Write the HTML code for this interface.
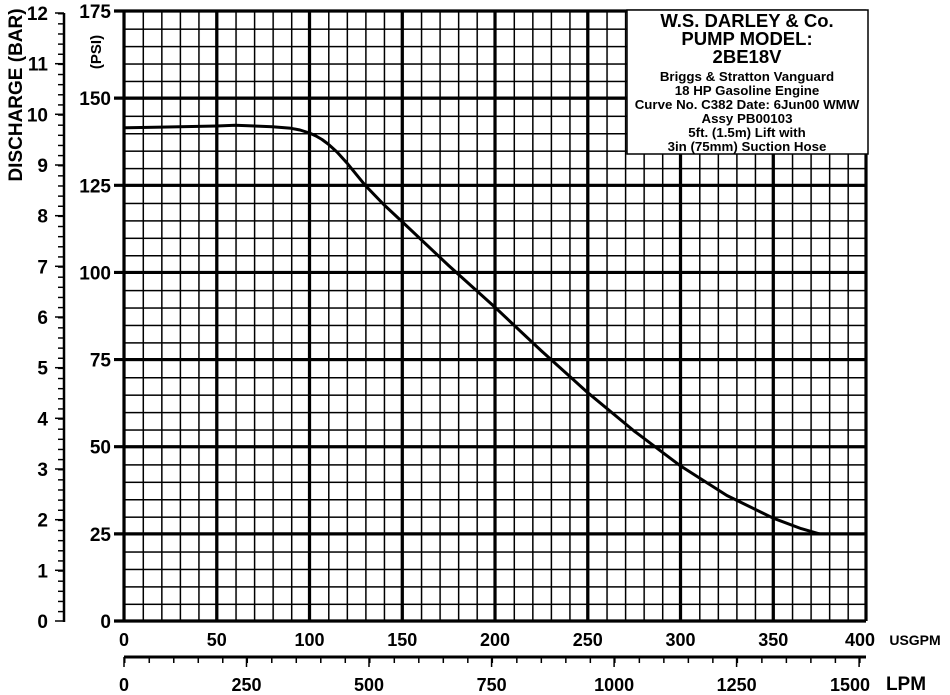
<!DOCTYPE html>
<html><head><style>body{margin:0;background:#fff}svg{display:block}text{font-family:"Liberation Sans",Arial,sans-serif;font-weight:bold;fill:#000}</style></head><body>
<svg width="950" height="695" viewBox="0 0 950 695" xmlns="http://www.w3.org/2000/svg">
<defs>
<pattern id="mg" patternUnits="userSpaceOnUse" x="124" y="11" width="18.55" height="17.4286">
<path d="M0,0V17.4286M0,0H18.55" stroke="#000" stroke-width="3" fill="none"/>
</pattern>
<pattern id="bt" patternUnits="userSpaceOnUse" x="0" y="13" width="20" height="10.1333">
<path d="M0,0H20" stroke="#000" stroke-width="3"/>
</pattern>
<pattern id="lt" patternUnits="userSpaceOnUse" x="124" y="0" width="24.505" height="700">
<path d="M0,0V700" stroke="#000" stroke-width="3"/>
</pattern>
</defs>
<rect x="124" y="11" width="742" height="610" fill="url(#mg)"/>
<g stroke="#000" stroke-width="3.2">
<line x1="124" y1="11" x2="124" y2="621"/><line x1="216.75" y1="11" x2="216.75" y2="621"/><line x1="309.5" y1="11" x2="309.5" y2="621"/><line x1="402.25" y1="11" x2="402.25" y2="621"/><line x1="495" y1="11" x2="495" y2="621"/><line x1="587.75" y1="11" x2="587.75" y2="621"/><line x1="680.5" y1="11" x2="680.5" y2="621"/><line x1="773.25" y1="11" x2="773.25" y2="621"/><line x1="866" y1="11" x2="866" y2="621"/>
<line x1="114" y1="621" x2="866" y2="621"/><line x1="114" y1="533.86" x2="866" y2="533.86"/><line x1="114" y1="446.71" x2="866" y2="446.71"/><line x1="114" y1="359.57" x2="866" y2="359.57"/><line x1="114" y1="272.43" x2="866" y2="272.43"/><line x1="114" y1="185.29" x2="866" y2="185.29"/><line x1="114" y1="98.14" x2="866" y2="98.14"/><line x1="114" y1="11" x2="866" y2="11"/>
</g>
<g font-size="19" text-anchor="end">
<text x="111" y="628">0</text><text x="111" y="540.9">25</text><text x="111" y="453.7">50</text><text x="111" y="366.6">75</text><text x="111" y="279.4">100</text><text x="111" y="192.3">125</text><text x="111" y="105.1">150</text><text x="111" y="18">175</text>
</g>
<g font-size="18" text-anchor="middle">
<text x="124" y="646">0</text><text x="216.75" y="646">50</text><text x="309.5" y="646">100</text><text x="402.25" y="646">150</text><text x="495" y="646">200</text><text x="587.75" y="646">250</text><text x="680.5" y="646">300</text><text x="773.25" y="646">350</text><text x="860" y="646">400</text>
</g>
<rect x="58" y="13" width="6" height="608" fill="url(#bt)"/>
<g stroke="#000" stroke-width="1.5">
<line x1="55" y1="621" x2="64" y2="621"/><line x1="55" y1="570.3" x2="64" y2="570.3"/><line x1="55" y1="519.7" x2="64" y2="519.7"/><line x1="55" y1="469" x2="64" y2="469"/><line x1="55" y1="418.3" x2="64" y2="418.3"/><line x1="55" y1="367.7" x2="64" y2="367.7"/><line x1="55" y1="317" x2="64" y2="317"/><line x1="55" y1="266.3" x2="64" y2="266.3"/><line x1="55" y1="215.7" x2="64" y2="215.7"/><line x1="55" y1="165" x2="64" y2="165"/><line x1="55" y1="114.3" x2="64" y2="114.3"/><line x1="55" y1="63.7" x2="64" y2="63.7"/><line x1="55" y1="13" x2="64" y2="13"/>
</g>
<line x1="64" y1="13" x2="64" y2="622" stroke="#000" stroke-width="2.5"/>
<g font-size="19" text-anchor="end">
<text x="48" y="628">0</text><text x="48" y="577.3">1</text><text x="48" y="526.7">2</text><text x="48" y="476">3</text><text x="48" y="425.3">4</text><text x="48" y="374.7">5</text><text x="48" y="324">6</text><text x="48" y="273.3">7</text><text x="48" y="222.7">8</text><text x="48" y="172">9</text><text x="48" y="121.3">10</text><text x="48" y="70.7">11</text><text x="48" y="20">12</text>
</g>
<rect x="124" y="657" width="737" height="6" fill="url(#lt)"/>
<g stroke="#000" stroke-width="1.5">
<line x1="124" y1="657" x2="124" y2="667"/><line x1="246.5" y1="657" x2="246.5" y2="667"/><line x1="369" y1="657" x2="369" y2="667"/><line x1="491.6" y1="657" x2="491.6" y2="667"/><line x1="614.1" y1="657" x2="614.1" y2="667"/><line x1="736.6" y1="657" x2="736.6" y2="667"/><line x1="859.1" y1="657" x2="859.1" y2="667"/>
</g>
<line x1="124" y1="657" x2="866" y2="657" stroke="#000" stroke-width="3"/>
<g font-size="18" text-anchor="middle">
<text x="124" y="691">0</text><text x="246.5" y="691">250</text><text x="369" y="691">500</text><text x="491.6" y="691">750</text><text x="614.1" y="691">1000</text><text x="736.6" y="691">1250</text><text x="850" y="691">1500</text>
</g>
<path d="M124,127.8L161.1,127.1L216.8,126L235.3,125.3L272.4,126.7L291,128.3L300,130L309.5,133L316,136L322,139.5L328.1,144L337,152L346.6,162.6L365.2,185.3L383.7,204.5L402.3,221.9L448.6,265.5L495,307.3L541.4,350.9L587.8,392.7L634.1,431L680.5,465.9L726.9,495.5L773.3,518.2L801.1,528.6L819.6,533.9" fill="none" stroke="#000" stroke-width="3" stroke-linejoin="round"/>
<rect x="627" y="10" width="241" height="144" fill="#fff" stroke="#000" stroke-width="1.5"/>
<g text-anchor="middle">
<text x="747" y="27" font-size="18.5">W.S. DARLEY &amp; Co.</text>
<text x="747" y="45" font-size="18.5">PUMP MODEL:</text>
<text x="747" y="63" font-size="18.5">2BE18V</text>
<text x="747" y="81" font-size="13.3">Briggs &amp; Stratton Vanguard</text>
<text x="747" y="95" font-size="13.3">18 HP Gasoline Engine</text>
<text x="747" y="109" font-size="13.3">Curve No. C382 Date: 6Jun00 WMW</text>
<text x="747" y="123" font-size="13.3">Assy PB00103</text>
<text x="747" y="137" font-size="13.3">5ft. (1.5m) Lift with</text>
<text x="747" y="151" font-size="13.3">3in (75mm) Suction Hose</text>
</g>
<text x="915" y="645" font-size="14" text-anchor="middle">USGPM</text>
<text x="906" y="690" font-size="19" text-anchor="middle">LPM</text>
<text transform="translate(22,95) rotate(-90)" font-size="19" text-anchor="middle">DISCHARGE (BAR)</text>
<text transform="translate(101,52) rotate(-90)" font-size="15" text-anchor="middle">(PSI)</text>
</svg>
</body></html>
